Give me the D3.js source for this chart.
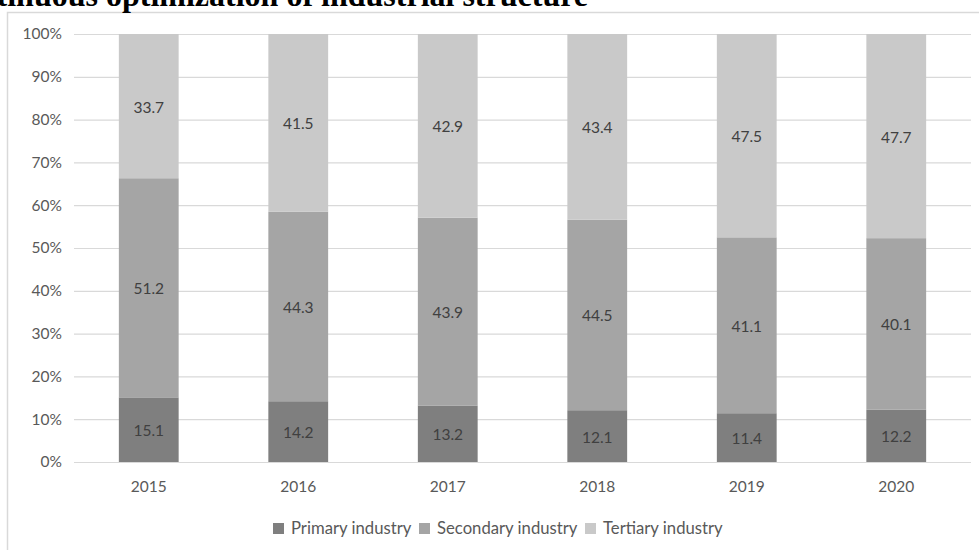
<!DOCTYPE html>
<html>
<head>
<meta charset="utf-8">
<script src="https://cdn.jsdelivr.net/npm/d3@7"></script>
<style>
  body { margin: 0; background: #fff; }
  svg { display: block; }
</style>
</head>
<body>
<div id="chart"></div>
<script>
'use strict';

const years = ['2015', '2016', '2017', '2018', '2019', '2020'];
const primary = [15.1, 14.2, 13.2, 12.1, 11.4, 12.2];
const secondary = [51.2, 44.3, 43.9, 44.5, 41.1, 40.1];
const tertiary = [33.7, 41.5, 42.9, 43.4, 47.5, 47.7];
const seriesNames = ['Primary industry', 'Secondary industry', 'Tertiary industry'];
const yTicks = [0, 10, 20, 30, 40, 50, 60, 70, 80, 90, 100];
const titleText = 'Continuous optimization of industrial structure';

const W = 979, H = 550;
const colors = ['#7f7f7f', '#a5a5a5', '#c9c9c9'];
const font = 'Lato, "Open Sans", sans-serif';

const svg = d3.select('#chart').append('svg')
    .attr('width', W)
    .attr('height', H);

// frame around the chart area
svg.append('path')
    .attr('d', `M7.5,${H} V12.5 H${W}`)
    .attr('fill', 'none')
    .attr('stroke', '#d9d9d9')
    .attr('stroke-width', 1.5);

// title, cut at the top of the page like in the source
svg.append('text')
    .attr('x', 588)
    .attr('y', 6)
    .attr('text-anchor', 'end')
    .style('font-family', '"Liberation Serif", "Times New Roman", serif')
    .style('font-weight', 'bold')
    .style('font-size', '32px')
    .style('fill', '#000')
    .text(titleText);

const x = d3.scaleBand()
    .domain(years)
    .range([74, 971])
    .paddingInner(0.6)
    .paddingOuter(0.3);

const y = d3.scaleLinear()
    .domain([0, 100])
    .range([462, 34]);

// gridlines + y labels
const yAxis = d3.axisLeft(y)
    .tickValues(yTicks)
    .tickSize(-(971 - 74))
    .tickPadding(12)
    .tickFormat(d => d + '%');

const gy = svg.append('g')
    .attr('transform', 'translate(74,0)')
    .call(yAxis);
gy.select('.domain').remove();
gy.selectAll('.tick line').attr('stroke', '#d9d9d9').attr('stroke-width', 1.2);
gy.selectAll('.tick text')
    .style('font-family', font)
    .style('font-size', '15.5px')
    .style('fill', '#595959');

// x labels
const xAxis = d3.axisBottom(x).tickSize(0).tickPadding(19);
const gx = svg.append('g')
    .attr('transform', 'translate(0,462)')
    .call(xAxis);
gx.select('.domain').remove();
gx.selectAll('.tick text')
    .style('font-family', font)
    .style('font-size', '15.5px')
    .style('fill', '#595959');

// stack
const rows = years.map((yr, i) => ({ year: yr, p: primary[i], s: secondary[i], t: tertiary[i] }));
const stack = d3.stack().keys(['p', 's', 't']);
const layers = stack(rows);

const layerG = svg.selectAll('.layer')
    .data(layers)
  .enter().append('g')
    .attr('class', 'layer')
    .attr('fill', (d, i) => colors[i]);

layerG.selectAll('rect')
    .data(d => d)
  .enter().append('rect')
    .attr('x', d => x(d.data.year))
    .attr('width', x.bandwidth())
    .attr('y', d => y(d[1]))
    .attr('height', d => y(d[0]) - y(d[1]));

layerG.selectAll('text')
    .data(d => d)
  .enter().append('text')
    .attr('x', d => x(d.data.year) + x.bandwidth() / 2)
    .attr('y', d => (y(d[0]) + y(d[1])) / 2 + 1)
    .attr('dy', '0.35em')
    .attr('text-anchor', 'middle')
    .style('font-family', font)
    .style('font-size', '15.5px')
    .style('fill', '#404040')
    .text(d => (d[1] - d[0]).toFixed(1));

// legend
const legendItems = [
  { name: seriesNames[0], color: colors[0], x: 273 },
  { name: seriesNames[1], color: colors[1], x: 419 },
  { name: seriesNames[2], color: colors[2], x: 585 }
];
const lg = svg.selectAll('.legend')
    .data(legendItems)
  .enter().append('g')
    .attr('class', 'legend')
    .attr('transform', d => `translate(${d.x},528.5)`);
lg.append('rect')
    .attr('x', 0)
    .attr('y', -5.5)
    .attr('width', 11)
    .attr('height', 11)
    .attr('fill', d => d.color);
lg.append('text')
    .attr('x', 18)
    .attr('dy', '0.35em')
    .style('font-family', font)
    .style('font-size', '16.7px')
    .style('fill', '#595959')
    .text(d => d.name);
</script>
</body>
</html>
